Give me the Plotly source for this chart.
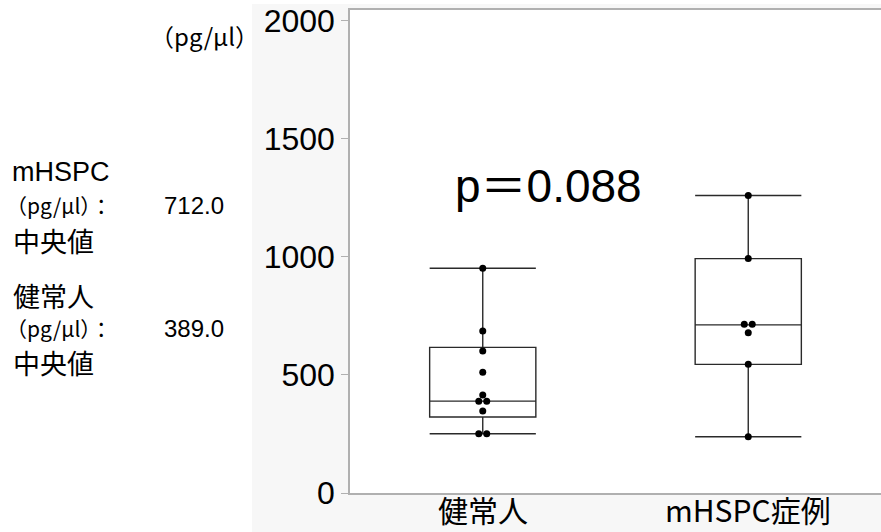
import plotly.graph_objects as go

categories = ["健常人", "mHSPC症例"]
healthy_values = [952, 686, 602, 511, 415, 389, 389, 347, 251, 251]
mhspc_values = [1260, 993, 715, 715, 679, 545, 238]
# box statistics (q1, median, q3, lower whisker, upper whisker)
q1 = [322, 545]
median = [389, 712]
q3 = [617, 993]
lowerfence = [251, 238]
upperfence = [952, 1260]
yticks = [0, 500, 1000, 1500, 2000]
median_labels = ["712.0", "389.0"]
p_text = "p＝0.088"

W, H = 881, 532
L, R, T, B = 350, 0, 10, 39
pw, ph = W - L - R, H - T - B

def px(x):
    return (x - L) / pw

def py(y):
    return (H - B - y) / ph

fig = go.Figure()

fig.add_trace(go.Box(
    x=[0, 1], q1=q1, median=median, q3=q3,
    lowerfence=lowerfence, upperfence=upperfence,
    width=0.4, whiskerwidth=1, boxpoints=False,
    line=dict(color="#2a2a2a", width=1.4),
    fillcolor="rgba(0,0,0,0)", showlegend=False, hoverinfo="skip",
))

# dots with side-by-side placement for tied values
xs, ys = [], []
for gi, vals in enumerate([healthy_values, mhspc_values]):
    counts = {}
    for v in vals:
        counts[v] = counts.get(v, 0) + 1
    seen = {}
    for v in vals:
        n = counts[v]
        k = seen.get(v, 0)
        seen[v] = k + 1
        off = (k - (n - 1) / 2) * 0.03 if n > 1 else 0
        xs.append(gi + off)
        ys.append(v)

fig.add_trace(go.Scatter(
    x=xs, y=ys, mode="markers",
    marker=dict(color="black", size=7),
    showlegend=False, hoverinfo="skip",
))

# grey panel behind plot area
fig.add_shape(type="rect", xref="paper", yref="paper",
              x0=px(252), x1=px(W + 5), y0=py(H + 5), y1=py(4),
              fillcolor="#f7f7f7", line=dict(width=0), layer="below")
fig.add_shape(type="rect", xref="paper", yref="paper",
              x0=0, x1=1.01, y0=0, y1=1,
              fillcolor="white", line=dict(width=0), layer="below")

cjk = "Noto Sans CJK JP, Liberation Sans, sans-serif"
lat = "Liberation Sans, Noto Sans CJK JP, sans-serif"
ann = []
def add_text(text, x, y, size, family=cjk, anchor="left"):
    ann.append(dict(text=text, x=px(x), y=py(y), xref="paper", yref="paper",
                    xanchor=anchor, yanchor="middle", showarrow=False,
                    font=dict(size=size, family=family, color="black")))

add_text("mHSPC", 10, 172, 27, lat)
add_text("（pg/μl）：", 4, 205, 21)
add_text(median_labels[0], 162, 205, 24, lat)
add_text("中央値", 11, 240, 27)
add_text("健常人", 11, 295, 27)
add_text("（pg/μl）：", 4, 328, 21)
add_text(median_labels[1], 162, 328, 24, lat)
add_text("中央値", 11, 362, 27)
add_text("（pg/μl）", 148, 36, 24)
add_text(p_text, 548, 186, 46, lat, anchor="center")

# category labels placed through the x scale
for i, c in enumerate(categories):
    ann.append(dict(text=c, x=i, y=py(509), xref="x", yref="paper",
                    xanchor="center", yanchor="middle", showarrow=False,
                    font=dict(size=30, family=cjk, color="black")))

fig.update_layout(
    width=W, height=H,
    margin=dict(l=L, r=R, t=T, b=B, pad=0),
    paper_bgcolor="white", plot_bgcolor="white",
    template="none",
    annotations=ann,
    xaxis=dict(range=[-0.5, 1.5], tickvals=[0, 1], showticklabels=False,
               showgrid=False, zeroline=False, showline=True, mirror=True,
               linecolor="#b0b0b0", linewidth=1.5, ticks="", automargin=False),
    yaxis=dict(range=[0, 2046], tickvals=yticks,
               showgrid=False, zeroline=False, showline=True,
               linecolor="#b0b0b0", linewidth=1.5, ticks="outside",
               ticklen=7, tickcolor="#b0b0b0", automargin=False,
               tickfont=dict(size=32, family="Liberation Sans, sans-serif", color="black")),
)

fig.write_html("out.html", config={"displayModeBar": False},
               post_script="document.body.style.margin='0';document.body.style.overflow='hidden';")
